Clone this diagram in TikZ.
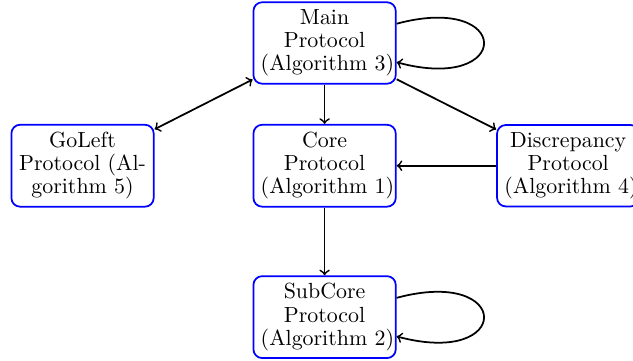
\documentclass[tikz,border=0pt]{standalone}
\usepackage{amsmath}
\usepackage{amssymb}
\hyphenpenalty=10000

\begin{document}
\begin{tikzpicture}[proto/.style = {draw=blue, rounded corners, text width=2.05cm, align=center, font=\fontsize{10pt}{10.6pt}\selectfont}, >=to, thick]
  \useasboundingbox (-5.21,0.69) rectangle (4.95,-5.09);
  \node[proto] (main) at (0,0) {Main Protocol (Algorithm~3)};
  \node[proto] (core) at (0,-1.97) {Core Protocol (Algorithm~1)};
  \node[proto] (left) at (-3.885,-1.97) {GoLeft Protocol (Al-\\gorithm~5)};
  \node[proto] (disc) at (3.91,-1.97) {Discrepancy Protocol (Algorithm~4)};
  \node[proto] (sub) at (0,-4.40) {SubCore Protocol (Algorithm~2)};
  \draw[->] (main) to[loop right] (main);
  \draw[<->] (main)--(left);
  \draw[->] (main)--(core);
  \draw[->] (main)--(disc);
  \draw[->] (disc)--(core);
  \draw[->] (core)--(sub);
  \draw[->] (sub) to[loop right] (sub);
\end{tikzpicture}
\end{document}
